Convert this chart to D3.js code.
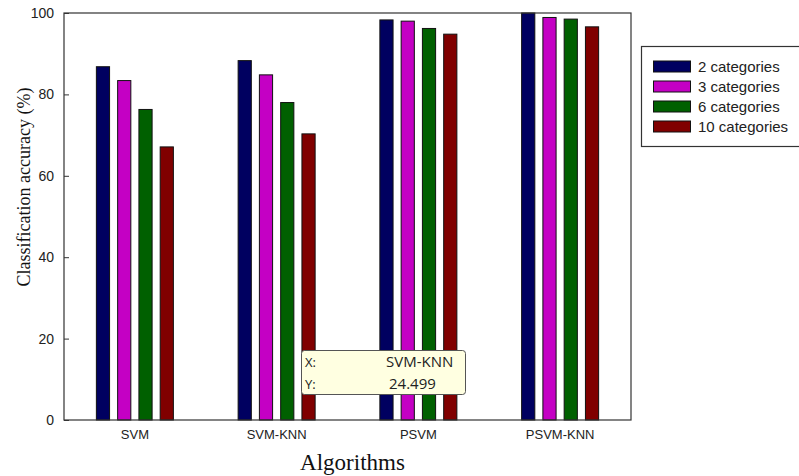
<!DOCTYPE html>
<html><head><meta charset="utf-8">
<script src="https://cdn.jsdelivr.net/npm/d3@7"></script>
<style>body{margin:0;background:#fff}svg{display:block}</style>
</head><body>
<svg id="c" width="799" height="476"></svg>
<script>
const categories = ["SVM", "SVM-KNN", "PSVM", "PSVM-KNN"];
const seriesNames = ["2 categories", "3 categories", "6 categories", "10 categories"];
const s2 = [86.8, 88.3, 98.3, 100.0];
const s3 = [83.4, 84.8, 98.0, 98.9];
const s6 = [76.3, 78.0, 96.2, 98.5];
const s10 = [67.1, 70.3, 94.8, 96.6];
const yTicks = [0, 20, 40, 60, 80, 100];
const colors = ["#000060", "#c400c4", "#006000", "#800000"];
const tooltipX = "SVM-KNN", tooltipY = "24.499";

const series = [s2, s3, s6, s10];
const svg = d3.select("#c");
const L = 64, R = 631, T = 13, B = 420;

const x = d3.scaleBand().domain(categories).range([L, R]).padding(0);
const xi = d3.scaleBand().domain(d3.range(4)).range([-38.5, 38.5]).paddingInner(0.38).paddingOuter(0);
const y = d3.scaleLinear().domain([0, 100]).range([B, T]);

// bars
series.forEach((vals, si) => {
  svg.append("g").selectAll("rect").data(vals).enter().append("rect")
    .attr("x", (d, i) => x(categories[i]) + x.bandwidth() / 2 + xi(si))
    .attr("y", d => y(d))
    .attr("width", xi.bandwidth())
    .attr("height", d => y(0) - y(d))
    .attr("fill", colors[si])
    .attr("stroke", "#111").attr("stroke-width", 1);
});

// frame
svg.append("rect").attr("x", L).attr("y", T).attr("width", R - L).attr("height", B - T)
  .attr("fill", "none").attr("stroke", "#333").attr("stroke-width", 1.2);

// y axis
const ya = svg.append("g").attr("transform", `translate(${L},0)`)
  .call(d3.axisLeft(y).tickValues(yTicks).tickSizeInner(-5).tickSizeOuter(0).tickPadding(10));
ya.select(".domain").remove();
ya.selectAll("line").attr("stroke", "#333");
ya.selectAll("text").attr("font-family", "Arial, 'Liberation Sans', sans-serif").attr("font-size", 14).attr("fill", "#222");

// x axis
const xa = svg.append("g").attr("transform", `translate(0,${B})`)
  .call(d3.axisBottom(x).tickSize(0).tickPadding(10));
xa.select(".domain").remove();
xa.selectAll("text").attr("font-family", "Arial, 'Liberation Sans', sans-serif").attr("font-size", 13).attr("fill", "#222");

// axis titles
svg.append("text").attr("x", (L + R) / 2 + 5).attr("y", 470).attr("text-anchor", "middle")
  .attr("font-family", "'Liberation Serif', 'Times New Roman', serif").attr("font-size", 23).attr("fill", "#111")
  .text("Algorithms");
svg.append("text").attr("transform", `translate(30,${187}) rotate(-90)`).attr("text-anchor", "middle")
  .attr("font-family", "'Liberation Serif', 'Times New Roman', serif").attr("font-size", 18).attr("fill", "#111")
  .text("Classification accuracy (%)");

// legend
const lg = svg.append("g");
lg.append("rect").attr("x", 641.5).attr("y", 46.5).attr("width", 170).attr("height", 100)
  .attr("fill", "#fff").attr("stroke", "#333").attr("stroke-width", 1.2);
seriesNames.forEach((n, i) => {
  const cy = 66.5 + i * 20;
  lg.append("rect").attr("x", 653.5).attr("y", cy - 5.5).attr("width", 37).attr("height", 11)
    .attr("fill", colors[i]).attr("stroke", "#111");
  lg.append("text").attr("x", 698).attr("y", cy + 5.5).attr("font-family", "Arial, 'Liberation Sans', sans-serif")
    .attr("font-size", 15).attr("fill", "#222").text(n);
});

// tooltip
const tt = svg.append("g");
tt.append("rect").attr("x", 301.5).attr("y", 350.5).attr("width", 164).attr("height", 44).attr("rx", 3)
  .attr("fill", "#ffffe1").attr("stroke", "#555");
const tf = "'Open Sans', 'Noto Sans', sans-serif";
tt.append("text").attr("x", 305).attr("y", 367).attr("font-family", tf).attr("font-size", 13).attr("fill", "#222").text("X:");
tt.append("text").attr("x", 305).attr("y", 389).attr("font-family", tf).attr("font-size", 13).attr("fill", "#222").text("Y:");
tt.append("text").attr("x", 386).attr("y", 367).attr("font-family", tf).attr("font-size", 15).attr("fill", "#222").text(tooltipX);
tt.append("text").attr("x", 389).attr("y", 389).attr("font-family", tf).attr("font-size", 15).attr("fill", "#222").text(tooltipY);
</script>
</body></html>
